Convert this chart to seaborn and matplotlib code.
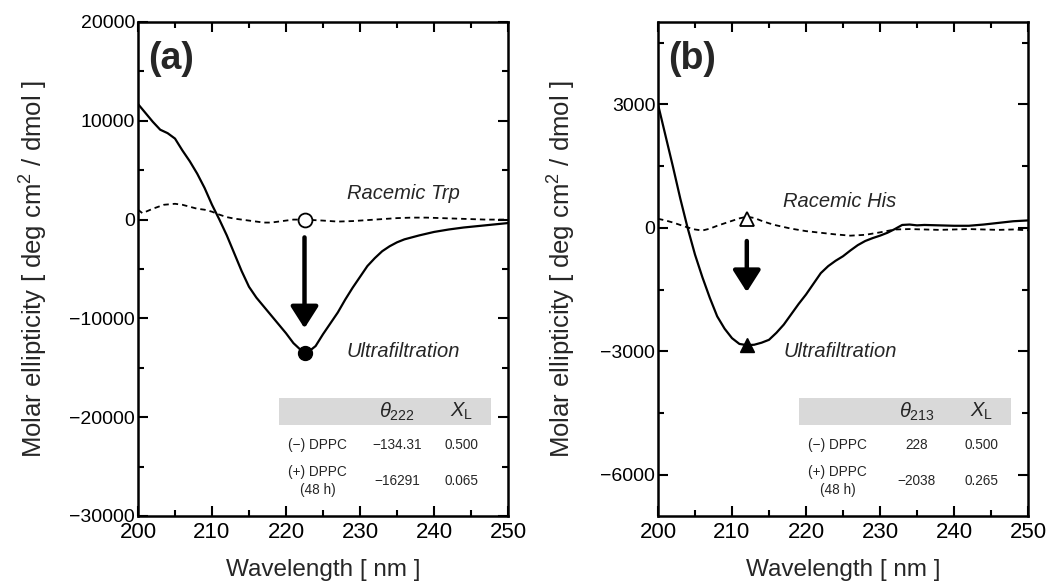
import numpy as np
import pandas as pd
import matplotlib
matplotlib.use("Agg")
import matplotlib.pyplot as plt
from matplotlib.ticker import MultipleLocator
import seaborn as sns

sns.set_theme(style="ticks")
plt.rcParams['font.family'] = ['Liberation Sans', 'DejaVu Sans']
plt.rcParams['mathtext.fontset'] = 'custom'
plt.rcParams['mathtext.it'] = 'Liberation Sans:italic'
plt.rcParams['mathtext.rm'] = 'Liberation Sans'

# ---------------- data: panel (a) Trp ----------------
a_wl_uf = [200, 201, 202, 203, 204, 205, 206, 207, 208, 209, 210, 211, 212, 213, 214,
           215, 216, 217, 218, 219, 220, 221, 222, 223, 224, 225, 226, 227, 228, 229,
           230, 231, 232, 233, 234, 235, 236, 238, 240, 242, 244, 246, 248, 250]
a_uf = [11700, 10800, 9900, 9100, 8750, 8200, 7000, 5900, 4650, 3200, 1500, 0, -1600,
        -3400, -5200, -6800, -7900, -8800, -9700, -10600, -11500, -12500, -13200, -13400,
        -12800, -11600, -10500, -9400, -8100, -6900, -5800, -4700, -3900, -3200, -2700,
        -2300, -2000, -1600, -1250, -1000, -800, -650, -500, -350]
a_wl_rac = [200, 200.6, 202, 203.5, 205, 206, 207, 208, 209, 210, 211, 212, 213, 214,
            215, 216, 217, 218, 219, 220, 221, 222.5, 225, 227, 229, 231, 233, 235, 237,
            239, 241, 243, 245, 247, 250]
a_rac = [1000, 650, 1100, 1500, 1600, 1500, 1300, 1100, 1000, 800, 500, 250, 100, 0,
         -100, -200, -300, -300, -200, -100, 0, 0, -100, -200, -150, -50, 50, 150, 200,
         200, 150, 100, 50, 0, 0]
a_mark_wl = 222.5
a_mark_rac = 0
a_mark_uf = -13500
a_theta_label = r'$\theta_{222}$'
a_rows = ['(−) DPPC', '(+) DPPC\n(48 h)']
a_theta = ['−134.31', '−16291']
a_xl = ['0.500', '0.065']

# ---------------- data: panel (b) His ----------------
b_wl_uf = [200, 201, 202, 203, 204, 205, 206, 207, 208, 209, 210, 211, 212, 213, 214,
           215, 216, 217, 218, 219, 220, 221, 222, 223, 224, 225, 226, 227, 228, 229,
           230, 231, 232, 233, 234, 235, 236, 238, 240, 242, 244, 246, 248, 250]
b_uf = [3000, 2250, 1500, 720, 0, -650, -1200, -1700, -2150, -2450, -2680, -2820,
        -2850, -2840, -2790, -2720, -2550, -2350, -2100, -1850, -1620, -1360, -1100,
        -930, -800, -690, -550, -420, -320, -250, -190, -120, -30, 70, 80, 60, 70, 60,
        50, 50, 80, 120, 160, 180]
b_wl_rac = [200, 201, 202, 203, 204, 205, 206, 207, 208, 209, 210, 211, 212, 213, 214,
            215, 216, 217, 218, 219, 220, 222, 224, 226, 228, 230, 232, 234, 236, 238,
            240, 242, 244, 246, 248, 250]
b_rac = [220, 180, 130, 70, 10, -40, -65, -20, 50, 110, 170, 230, 270, 240, 170, 110,
         60, 20, -20, -50, -80, -120, -160, -190, -170, -110, -40, -30, -40, -50, -40,
         -30, -40, -50, -40, -60]
b_mark_wl = 212
b_mark_rac = 220
b_mark_uf = -2850
b_theta_label = r'$\theta_{213}$'
b_rows = ['(−) DPPC', '(+) DPPC\n(48 h)']
b_theta = ['228', '−2038']
b_xl = ['0.500', '0.265']

fig = plt.figure(figsize=(10.48, 5.86), dpi=100)
axA = fig.add_axes([138/1048, 1-516/586, 370/1048, 494/586])
axB = fig.add_axes([658/1048, 1-516/586, 370/1048, 494/586])


def panel(ax, wl_uf, uf, wl_rac, rac, mwl, mrac, muf, marker, ylim, major, rac_txt,
          rac_pos, uf_pos, arrow, tag, theta_label, rows, theta, xl, ylpad):
    dfu = pd.DataFrame({'wl': wl_uf, 'val': uf})
    dfr = pd.DataFrame({'wl': wl_rac, 'val': rac})
    sns.lineplot(data=dfu, x='wl', y='val', ax=ax, color='black', lw=1.6)
    sns.lineplot(data=dfr, x='wl', y='val', ax=ax, color='black', lw=1.3,
                 linestyle=(0, (3, 2.2)))
    ax.plot([mwl], [mrac], marker=marker, ms=10, mfc='white', mec='black', mew=1.3,
            zorder=5)
    ax.plot([mwl], [muf], marker=marker, ms=10, mfc='black', mec='black', zorder=5)
    ax.annotate('', xy=(mwl, arrow[1]), xytext=(mwl, arrow[0]),
                arrowprops=dict(arrowstyle='-|>,head_width=0.7,head_length=1.1',
                                lw=3.2, color='black', shrinkA=0, shrinkB=0))
    ax.text(rac_pos[0], rac_pos[1], rac_txt, fontsize=14.5, style='italic', va='center')
    ax.text(uf_pos[0], uf_pos[1], 'Ultrafiltration', fontsize=14.5, style='italic',
            va='center')
    ax.text(0.028, 0.962, tag, transform=ax.transAxes, fontsize=27, fontweight='bold',
            va='top', ha='left')
    ax.set_xlim(200, 250)
    ax.set_ylim(*ylim)
    ax.xaxis.set_major_locator(MultipleLocator(10))
    ax.xaxis.set_minor_locator(MultipleLocator(5))
    ax.yaxis.set_major_locator(MultipleLocator(major))
    ax.yaxis.set_minor_locator(MultipleLocator(major/2))
    ax.tick_params(which='both', direction='in', top=True, right=True, width=1.5,
                   colors='black', pad=2)
    ax.tick_params(axis='x', labelsize=16, pad=4)
    ax.tick_params(axis='y', labelsize=14)
    ax.tick_params(which='major', length=7)
    ax.tick_params(which='minor', length=4)
    for s in ax.spines.values():
        s.set_linewidth(1.8)
        s.set_color('black')
    ax.set_xlabel('Wavelength [ nm ]', fontsize=17.5, labelpad=12)
    ax.set_ylabel(r'Molar ellipticity [ deg cm$^{\mathregular{2}}$ / dmol ]',
                  fontsize=18.5, labelpad=ylpad)
    ax.yaxis.set_major_formatter(matplotlib.ticker.FuncFormatter(
        lambda v, p: ('−' if v < 0 else '') + f'{abs(int(round(v)))}'))
    # table
    ax.add_patch(plt.Rectangle((0.38, 0.184), 0.575, 0.055, transform=ax.transAxes,
                               facecolor='#d9d9d9', edgecolor='none', zorder=1))
    ax.text(0.70, 0.2115, theta_label, transform=ax.transAxes, fontsize=14.5,
            ha='center', va='center', zorder=3)
    ax.text(0.875, 0.2115, r'$X_{\mathrm{L}}$', transform=ax.transAxes, fontsize=14.5,
            ha='center', va='center', zorder=3)
    ys = [0.1437, 0.0709]
    for r, t, x, y in zip(rows, theta, xl, ys):
        ax.text(0.485, y, r, transform=ax.transAxes, fontsize=9.8, ha='center',
                va='center', linespacing=1.45)
        ax.text(0.70, y, t, transform=ax.transAxes, fontsize=9.8, ha='center',
                va='center')
        ax.text(0.875, y, x, transform=ax.transAxes, fontsize=9.8, ha='center',
                va='center')


panel(axA, a_wl_uf, a_uf, a_wl_rac, a_rac, a_mark_wl, a_mark_rac, a_mark_uf, 'o',
      (-30000, 20000), 10000, 'Racemic Trp', (228.2, 2600), (228.2, -13300),
      (-1800, -11000), '(a)', a_theta_label, a_rows, a_theta, a_xl, 14)
panel(axB, b_wl_uf, b_uf, b_wl_rac, b_rac, b_mark_wl, b_mark_rac, b_mark_uf, '^',
      (-7000, 5000), 3000, 'Racemic His', (216.9, 640), (216.9, -3000),
      (-320, -1560), '(b)', b_theta_label, b_rows, b_theta, b_xl, 16)

fig.savefig('out.png', dpi=100)
